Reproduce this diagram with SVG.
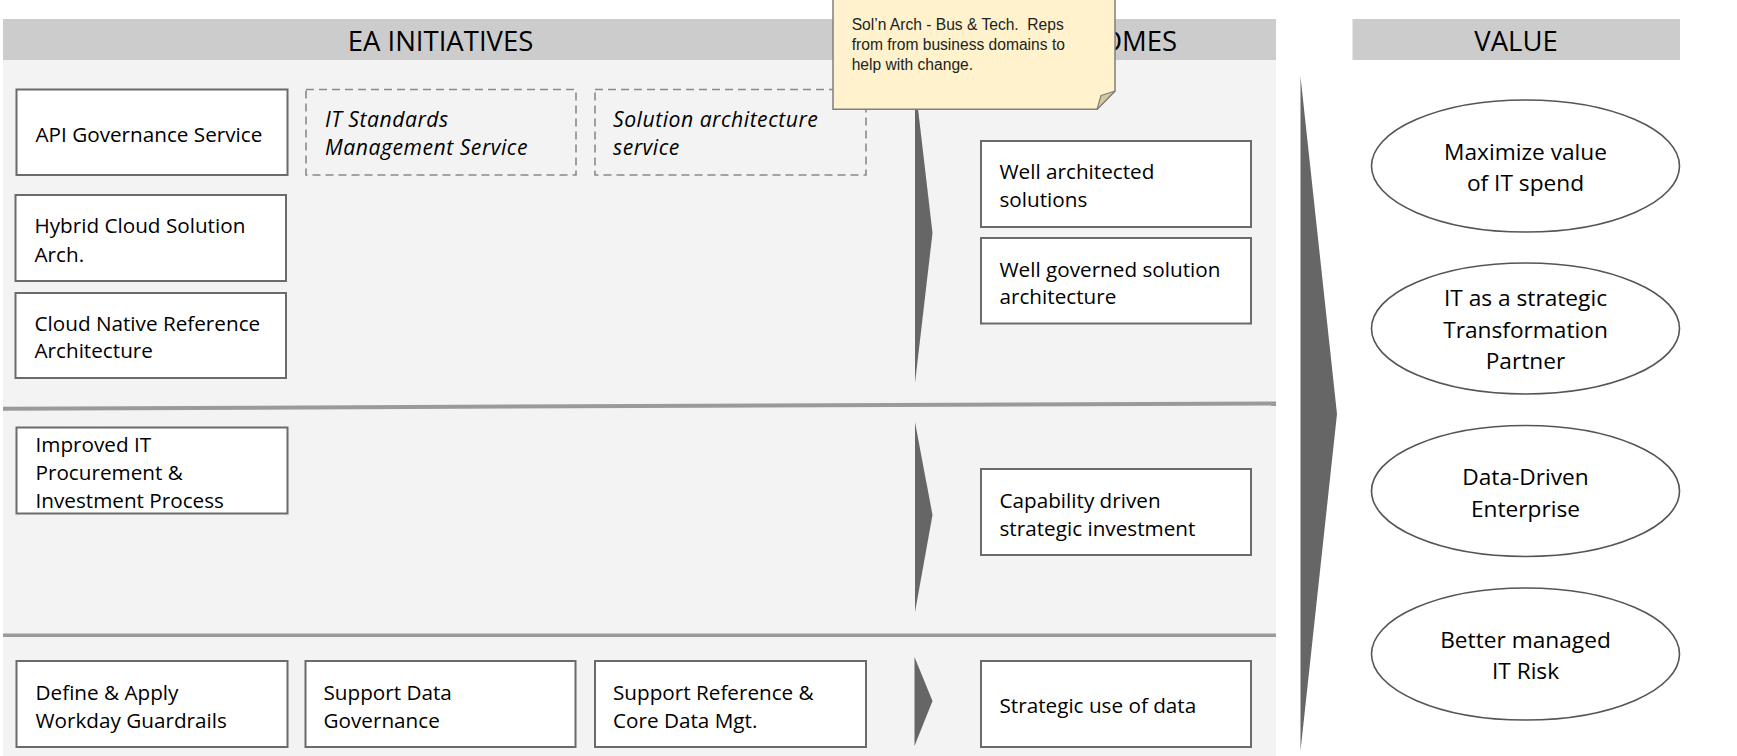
<svg xmlns="http://www.w3.org/2000/svg" width="1737" height="756" viewBox="0 0 1737 756">
<style>
.hdr{fill:#cccccc}
.htxt{font-family:"Open Sans","DejaVu Sans",sans-serif;font-size:27.5px;fill:#000;text-anchor:middle}
.box{fill:#ffffff;stroke:#6b6b6b;stroke-width:2}
.dash{fill:none;stroke:#8a8a8a;stroke-width:1.6;stroke-dasharray:8 5}
.t{font-family:"Open Sans","DejaVu Sans",sans-serif;font-size:20.7px;fill:#000}
.ti{font-style:italic;font-size:21.2px;letter-spacing:0.5px}
.ell{fill:#ffffff;stroke:#555555;stroke-width:1.6}
.et{font-family:"Open Sans","DejaVu Sans",sans-serif;font-size:22.7px;fill:#000;text-anchor:middle}
.chev{fill:#666666}
.sep{stroke:#9a9a9a;stroke-width:4;fill:none}
.note{fill:#fff2cc;stroke:#7f7f7f;stroke-width:1.5}
.fold{fill:#d6c8a2;stroke:#7f7f7f;stroke-width:1.2;stroke-linejoin:round}
.nt{font-family:"Liberation Sans",Arial,sans-serif;font-size:15.6px;fill:#222}
</style>
<rect width="1737" height="756" fill="#ffffff"/>
<g id="panel">
<rect x="3" y="60" width="1273" height="696" fill="#f3f3f3"/>
<rect class="hdr" x="3" y="19" width="1273" height="41"/>
<rect class="hdr" x="1352.5" y="19" width="327.5" height="41"/>
<text class="htxt" x="440.5" y="50.7">EA INITIATIVES</text>
<text class="htxt" x="1102" y="50.7">OUTCOMES</text>
<text class="htxt" x="1516" y="50.7">VALUE</text>
<path class="sep" d="M3,408.7 L1276,403.4"/>
<path class="sep" d="M3,635.2 L1276,635.2" style="stroke-width:3.6"/>
</g>
<g id="connectors">
<polygon class="chev" points="915,83 932.5,233 915,383"/>
<polygon class="chev" points="915,422 932.5,515 915,612"/>
<polygon class="chev" points="914.5,657 932.5,701 914.5,746"/>
<polygon class="chev" points="1300.5,76.5 1337,414 1300.5,751"/>
</g>
<g id="api-governance">
<rect class="box" x="16.5" y="89.5" width="271" height="85.5"/>
<text class="t" x="35.5" y="141.7">API Governance Service</text>
</g>
<g id="it-standards">
<rect class="dash" x="306" y="89.5" width="270" height="85.5"/>
<text class="t ti" x="325" y="127.3">IT Standards</text>
<text class="t ti" x="325" y="154.7">Management Service</text>
</g>
<g id="solution-architecture">
<rect class="dash" x="595" y="89.5" width="271" height="85.5"/>
<text class="t ti" x="613" y="127.3">Solution architecture</text>
<text class="t ti" x="613" y="154.7">service</text>
</g>
<g id="hybrid-cloud">
<rect class="box" x="15.5" y="195" width="270.5" height="86"/>
<text class="t" x="34.5" y="233.3">Hybrid Cloud Solution</text>
<text class="t" x="34.5" y="261.5">Arch.</text>
</g>
<g id="cloud-native">
<rect class="box" x="15.5" y="293" width="270.5" height="85"/>
<text class="t" x="34.5" y="331">Cloud Native Reference</text>
<text class="t" x="34.5" y="358.3">Architecture</text>
</g>
<g id="improved-it">
<rect class="box" x="16.5" y="427.5" width="271" height="86"/>
<text class="t" x="35.5" y="451.7">Improved IT</text>
<text class="t" x="35.5" y="479.7">Procurement &amp;</text>
<text class="t" x="35.5" y="507.7">Investment Process</text>
</g>
<g id="workday-guardrails">
<rect class="box" x="16.5" y="661" width="271" height="86"/>
<text class="t" x="35.5" y="700">Define &amp; Apply</text>
<text class="t" x="35.5" y="727.7">Workday Guardrails</text>
</g>
<g id="data-governance">
<rect class="box" x="305.5" y="661" width="270" height="86"/>
<text class="t" x="323.5" y="700">Support Data</text>
<text class="t" x="323.5" y="727.7">Governance</text>
</g>
<g id="reference-data">
<rect class="box" x="595" y="661" width="271" height="86"/>
<text class="t" x="613" y="700">Support Reference &amp;</text>
<text class="t" x="613" y="727.7">Core Data Mgt.</text>
</g>
<g id="well-architected">
<rect class="box" x="981" y="141" width="270" height="86"/>
<text class="t" x="999.5" y="179">Well architected</text>
<text class="t" x="999.5" y="207">solutions</text>
</g>
<g id="well-governed">
<rect class="box" x="981" y="238" width="270" height="85.5"/>
<text class="t" x="999.5" y="276.5">Well governed solution</text>
<text class="t" x="999.5" y="304">architecture</text>
</g>
<g id="capability-investment">
<rect class="box" x="981" y="469" width="270" height="86"/>
<text class="t" x="999.5" y="508.3">Capability driven</text>
<text class="t" x="999.5" y="536">strategic investment</text>
</g>
<g id="strategic-data">
<rect class="box" x="981" y="661" width="270" height="86"/>
<text class="t" x="999.5" y="713.3">Strategic use of data</text>
</g>
<g id="value-it-spend">
<ellipse class="ell" cx="1525.5" cy="166" rx="154" ry="66"/>
<text class="et" x="1525.5" y="160">Maximize value</text>
<text class="et" x="1525.5" y="191.3">of IT spend</text>
</g>
<g id="value-partner">
<ellipse class="ell" cx="1525.5" cy="328.5" rx="154" ry="65.5"/>
<text class="et" x="1525.5" y="306">IT as a strategic</text>
<text class="et" x="1525.5" y="337.7">Transformation</text>
<text class="et" x="1525.5" y="369.3">Partner</text>
</g>
<g id="value-data-driven">
<ellipse class="ell" cx="1525.5" cy="491" rx="154" ry="65.5"/>
<text class="et" x="1525.5" y="485">Data-Driven</text>
<text class="et" x="1525.5" y="516.7">Enterprise</text>
</g>
<g id="value-risk">
<ellipse class="ell" cx="1525.5" cy="654" rx="154" ry="66"/>
<text class="et" x="1525.5" y="647.7">Better managed</text>
<text class="et" x="1525.5" y="679">IT Risk</text>
</g>
<g id="note">
<path class="note" d="M833,-2 H1115 V91 L1097,109.3 H833 Z"/>
<path class="fold" d="M1115,91 L1097,109.3 L1101,95.5 Z"/>
<text class="nt" x="851.7" y="30">Sol’n Arch - Bus &amp; Tech.&#160; Reps</text>
<text class="nt" x="851.7" y="50">from from business domains to</text>
<text class="nt" x="851.7" y="70">help with change.</text>
</g>
</svg>
